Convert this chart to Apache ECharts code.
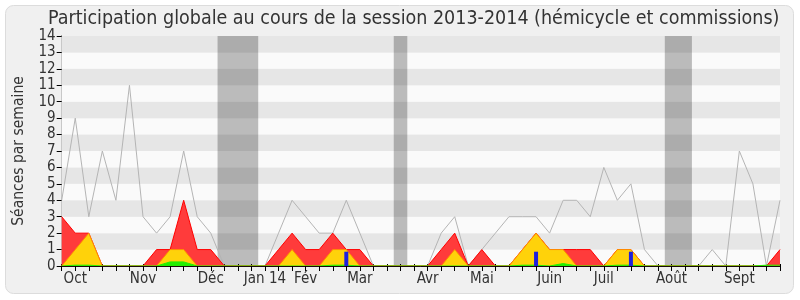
<!DOCTYPE html>
<html>
<head>
<meta charset="utf-8">
<script src="https://cdn.jsdelivr.net/npm/echarts@6/dist/echarts.min.js"></script>
<style>
html,body{margin:0;padding:0;background:#ffffff;}
#chart{width:800px;height:300px;}
</style>
</head>
<body>
<div id="chart"></div>
<script>
// Weekly values, week 0 .. week 53 of the 2013-2014 session
var totalSeances = [4,9,3,7,4,11,3,2,3,7,3,2,0,0,0,0,2,4,3,2,2,4,2,0,0,0,0,0,2,3,0,1,2,3,3,3,2,4,4,3,6,4,5,1,0,0,0,0,1,0,7,5,0,4];
var presences    = [3,2,2,0,0,0,0,1,1,4,1,1,0,0,0,0,1,2,1,1,2,1,1,0,0,0,0,0,1,2,0,1,0,0,1,2,1,1,1,1,0,1,1,0,0,0,0,0,0,0,0,0,0,1];
var hemicycle    = [0,1,2,0,0,0,0,0,1,1,0,0,0,0,0,0,0,1,0,0,1,1,0,0,0,0,0,0,0,1,0,0,0,0,1,2,1,1,0,0,0,1,1,0,0,0,0,0,0,0,0,0,0,0];
var interventions= [0,0.05,0.05,0,0,0,0,0,0.25,0.25,0,0,0,0,0,0,0,0,0,0,0.05,0.05,0,0,0,0,0,0,0,0,0,0,0,0,0.05,0.05,0,0.15,0,0,0,0.05,0.05,0,0,0,0,0,0,0,0,0,0.05,0.05];
var questionWeeks = [21,35,42];
var questionValues = [0.87,0.87,0.87];
var vacances = [[11.5,14.5],[24.5,25.5],[44.5,46.5]];
var monthLabels = ['Oct','Nov','Déc','Jan 14','Fév','Mar','Avr','Mai','Juin','Juil','Août','Sept'];
var monthWeeks  = [1,6,11,15,18,22,27,31,36,40,45,50];
var yTicks = [0,1,2,3,4,5,6,7,8,9,10,11,12,13,14];

function pairs(arr){ return arr.map(function(v,i){ return [i,v]; }); }

var FONT = "'DejaVu Sans Condensed','DejaVu Sans',sans-serif";
var chart = echarts.init(document.getElementById('chart'), null, {renderer:'canvas'});
var option = {
  animation:false,
  backgroundColor:'#ffffff',
  graphic:[{
    type:'rect', z:-10, silent:true,
    shape:{x:5.5,y:5.5,width:788,height:288,r:8},
    style:{fill:'#f0f0f0',stroke:'#dcdcdc',lineWidth:1}
  }],
  title:{
    text:'Participation globale au cours de la session 2013-2014 (hémicycle et commissions)',
    left:43, top:4,
    textStyle:{fontFamily:FONT,fontSize:19.5,fontWeight:'normal',color:'#333333'}
  },
  grid:{left:61.7,right:20,top:36,bottom:34,containLabel:false},
  xAxis:[{
    type:'value', min:0, max:53, interval:1, z:20,
    axisLine:{show:true,onZero:false,lineStyle:{color:'#1a0a0a',width:1}},
    axisTick:{show:true,length:5,lineStyle:{color:'#000'}},
    splitLine:{show:false},
    axisLabel:{
      customValues:monthWeeks,
      formatter:function(v){ var i=monthWeeks.indexOf(Math.round(v)); return i>=0?monthLabels[i]:''; },
      fontFamily:FONT,fontSize:15,color:'#333333',margin:6
    }
  },{
    type:'value', position:'top', min:0, max:53, interval:1,
    axisLine:{show:false},
    axisTick:{show:true,length:2,lineStyle:{color:'#000'}},
    axisLabel:{show:false},
    splitLine:{show:false}
  }],
  yAxis:[{
    type:'value', min:0, max:14, interval:1,
    name:'Séances par semaine', nameLocation:'middle', nameGap:35, nameRotate:90,
    nameTextStyle:{fontFamily:FONT,fontSize:15.5,color:'#333333'},
    axisLine:{show:true,lineStyle:{color:'#000'}},
    axisTick:{show:true,length:5,lineStyle:{color:'#000'}},
    axisLabel:{fontFamily:FONT,fontSize:15,color:'#333333',margin:6,
      formatter:function(v){ return yTicks.indexOf(v)>=0? String(v):''; }},
    splitLine:{show:false},
    splitArea:{show:true,areaStyle:{color:['#fafafa','#e6e6e6']}}
  },{
    type:'value', position:'right', min:0, max:14, interval:1,
    axisLine:{show:true,lineStyle:{color:'#c8c8c8'}},
    axisTick:{show:false}, axisLabel:{show:false}, splitLine:{show:false}
  }],
  series:[
    {
      type:'line', name:'vacances', data:[], silent:true,
      markArea:{silent:true,itemStyle:{color:'rgba(0,0,0,0.25)'},
        data:vacances.map(function(v){ return [{xAxis:v[0],yAxis:0},{xAxis:v[1],yAxis:14}]; })}
    },
    {
      type:'line', name:'Séances', data:pairs(totalSeances), symbol:'none',
      lineStyle:{color:'#b4b4b4',width:1}, z:3
    },
    {
      type:'line', name:'Présences', data:pairs(presences), symbol:'none',
      lineStyle:{color:'#ff0000',width:1}, areaStyle:{color:'#ff3b3b',opacity:1}, z:4
    },
    {
      type:'line', name:'Hémicycle', data:pairs(hemicycle), symbol:'none',
      lineStyle:{color:'#ff8c00',width:1}, areaStyle:{color:'#ffd20a',opacity:1}, z:5
    },
    {
      type:'line', name:'Interventions', data:pairs(interventions), symbol:'none',
      lineStyle:{color:'#22ee00',width:1}, areaStyle:{color:'#22ee00',opacity:1}, z:6
    },
    {
      type:'bar', name:'Questions', barWidth:4,
      data:questionWeeks.map(function(w,i){ return [w,questionValues[i]]; }),
      itemStyle:{color:'#2020dd'}, z:7
    }
  ]
};
chart.setOption(option);
</script>
</body>
</html>
